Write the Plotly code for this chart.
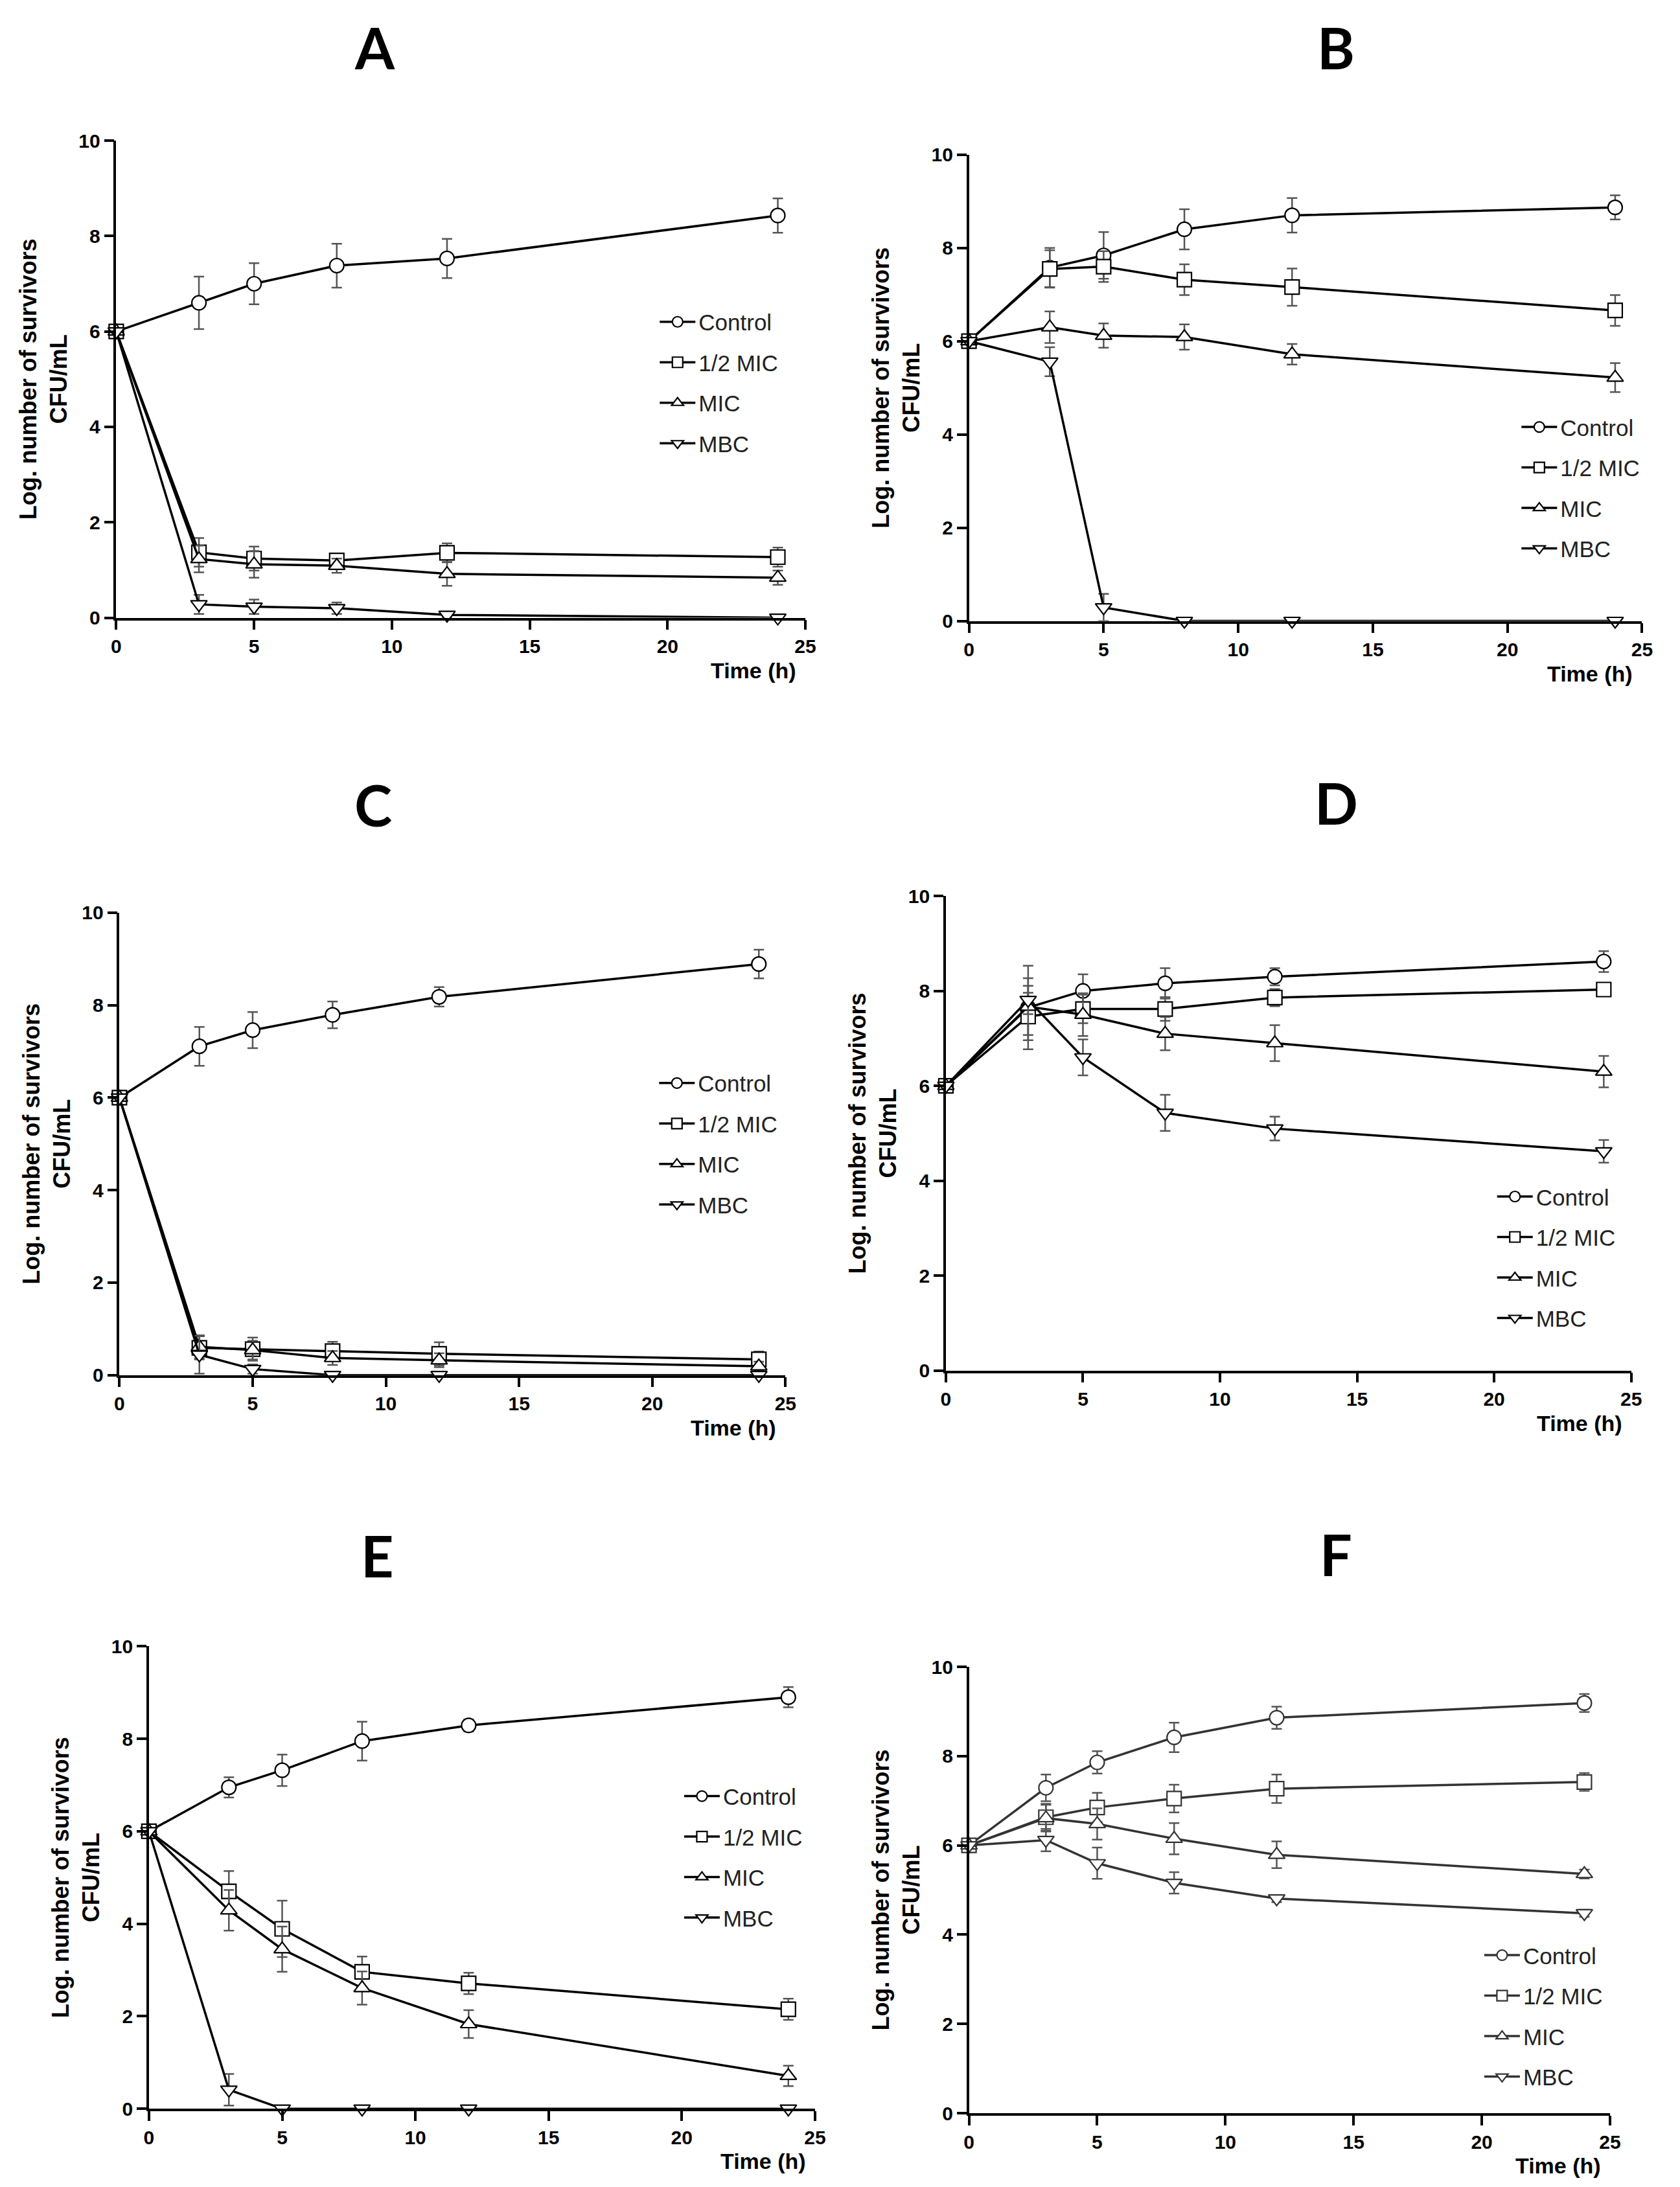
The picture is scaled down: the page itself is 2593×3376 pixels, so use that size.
import plotly.graph_objects as go

# sampling times (h)
time_h = [0, 3, 5, 8, 12, 24]
series_names = ["Control", "1/2 MIC", "MIC", "MBC"]
panel_letters = ["A", "B", "C", "D", "E", "F"]

# panel A
A_control = [6, 6.6, 7.0, 7.38, 7.53, 8.43]
A_control_err = [0, 0.55, 0.43, 0.46, 0.41, 0.36]
A_half = [6, 1.37, 1.24, 1.2, 1.36, 1.27]
A_half_err = [0, 0.3, 0.25, 0.15, 0.2, 0.2]
A_mic = [6, 1.23, 1.12, 1.09, 0.92, 0.84]
A_mic_err = [0, 0.28, 0.28, 0.15, 0.25, 0.15]
A_mbc = [6, 0.28, 0.23, 0.2, 0.06, 0.0]
A_mbc_err = [0, 0.2, 0.15, 0.12, 0.05, 0]

# panel B
B_control = [6, 7.58, 7.84, 8.4, 8.7, 8.87]
B_control_err = [0, 0.42, 0.5, 0.43, 0.37, 0.26]
B_half = [6, 7.55, 7.6, 7.32, 7.16, 6.66]
B_half_err = [0, 0.4, 0.33, 0.33, 0.4, 0.33]
B_mic = [6, 6.3, 6.12, 6.09, 5.72, 5.22]
B_mic_err = [0, 0.34, 0.26, 0.27, 0.22, 0.31]
B_mbc = [6, 5.56, 0.29, 0, 0, 0]
B_mbc_err = [0, 0.31, 0.29, 0, 0, 0]

# panel C
C_control = [6, 7.11, 7.46, 7.79, 8.18, 8.89]
C_control_err = [0, 0.42, 0.39, 0.29, 0.21, 0.31]
C_half = [6, 0.59, 0.56, 0.52, 0.46, 0.34]
C_half_err = [0, 0.25, 0.25, 0.2, 0.25, 0.17]
C_mic = [6, 0.61, 0.54, 0.37, 0.32, 0.19]
C_mic_err = [0, 0.25, 0.2, 0.15, 0.15, 0.1]
C_mbc = [6, 0.44, 0.13, 0, 0, 0]
C_mbc_err = [0, 0.41, 0.1, 0, 0, 0]

# panel D
D_control = [6, 7.65, 8.0, 8.16, 8.3, 8.62]
D_control_err = [0, 0.88, 0.35, 0.32, 0.18, 0.22]
D_half = [6, 7.46, 7.62, 7.62, 7.86, 8.03]
D_half_err = [0, 0.5, 0.3, 0.25, 0.18, 0.1]
D_mic = [6, 7.67, 7.5, 7.1, 6.9, 6.3]
D_mic_err = [0, 0.6, 0.45, 0.35, 0.38, 0.33]
D_mbc = [6, 7.81, 6.6, 5.43, 5.1, 4.62]
D_mbc_err = [0, 0.3, 0.38, 0.38, 0.25, 0.24]

# panel E
E_control = [6, 6.95, 7.32, 7.95, 8.29, 8.9]
E_control_err = [0, 0.22, 0.34, 0.42, 0.13, 0.22]
E_half = [6, 4.7, 3.89, 2.96, 2.71, 2.15]
E_half_err = [0, 0.44, 0.61, 0.33, 0.23, 0.23]
E_mic = [6, 4.29, 3.45, 2.61, 1.83, 0.71]
E_mic_err = [0, 0.44, 0.49, 0.36, 0.3, 0.22]
E_mbc = [6, 0.41, 0, 0, 0, 0]
E_mbc_err = [0, 0.34, 0, 0, 0, 0]

# panel F
F_control = [6, 7.29, 7.86, 8.42, 8.86, 9.19]
F_control_err = [0, 0.3, 0.25, 0.33, 0.25, 0.2]
F_half = [6, 6.63, 6.85, 7.05, 7.27, 7.42]
F_half_err = [0, 0.3, 0.33, 0.31, 0.32, 0.2]
F_mic = [6, 6.61, 6.48, 6.15, 5.79, 5.36]
F_mic_err = [0, 0.3, 0.35, 0.35, 0.3, 0.1]
F_mbc = [6, 6.12, 5.6, 5.16, 4.81, 4.48]
F_mbc_err = [0, 0.25, 0.35, 0.24, 0.08, 0.08]

panels = {
    "A": [(A_control, A_control_err), (A_half, A_half_err), (A_mic, A_mic_err), (A_mbc, A_mbc_err)],
    "B": [(B_control, B_control_err), (B_half, B_half_err), (B_mic, B_mic_err), (B_mbc, B_mbc_err)],
    "C": [(C_control, C_control_err), (C_half, C_half_err), (C_mic, C_mic_err), (C_mbc, C_mbc_err)],
    "D": [(D_control, D_control_err), (D_half, D_half_err), (D_mic, D_mic_err), (D_mbc, D_mbc_err)],
    "E": [(E_control, E_control_err), (E_half, E_half_err), (E_mic, E_mic_err), (E_mbc, E_mbc_err)],
    "F": [(F_control, F_control_err), (F_half, F_half_err), (F_mic, F_mic_err), (F_mbc, F_mbc_err)],
}

W, H = 2593, 3376
symbols = ["circle", "square", "triangle-up", "triangle-down"]

# plot areas in pixels: left, right, top, bottom
boxes = {
    "A": (165, 1239, 194, 938),
    "B": (1494, 2543, 216, 943),
    "C": (170, 1208, 1398, 2119),
    "D": (1458, 2526, 1372, 2112),
    "E": (216, 1254, 2542, 3263),
    "F": (1494, 2493, 2574, 3270),
}
# letter centre
letter_pos = {"A": (568, 48), "B": (2066, 48), "C": (565, 1229),
              "D": (2066, 1226), "E": (572, 2400), "F": (2066, 2398)}
# legend top-left
legend_pos = {"A": (1007, 447), "B": (2350, 611), "C": (1006, 1634),
              "D": (2312, 1811), "E": (1045, 2746), "F": (2292, 2994)}

fig = go.Figure()
annotations = []
layout = {}

for i, letter in enumerate(panel_letters):
    n = i + 1
    xa = "x" if n == 1 else "x%d" % n
    ya = "y" if n == 1 else "y%d" % n
    lg = "legend" if n == 1 else "legend%d" % n
    line_col = "#333333" if letter == "F" else "black"
    for j, (vals, errs) in enumerate(panels[letter]):
        fig.add_trace(go.Scatter(
            x=time_h, y=vals, name=series_names[j],
            mode="lines+markers", xaxis=xa, yaxis=ya,
            legend=lg, legendgroup=letter + str(j),
            line=dict(color=line_col, width=3.5),
            marker=dict(symbol=symbols[j], size=22, color="white",
                        line=dict(color=line_col, width=2.2)),
            error_y=dict(type="data", array=errs, visible=True,
                         color="#555555", thickness=2.5, width=8),
            cliponaxis=False,
        ))

    l, r, t, b = boxes[letter]
    axis_font = dict(family="Liberation Sans", size=30, color="black", weight="bold")
    layout["xaxis" if n == 1 else "xaxis%d" % n] = dict(
        domain=[l / W, r / W], anchor=ya, range=[0, 25], tickvals=[0, 5, 10, 15, 20, 25],
        showline=True, linecolor="black", linewidth=3.5, ticks="outside", ticklen=15,
        tickwidth=3.5, tickcolor="black", showgrid=False, zeroline=False, tickfont=axis_font,
    )
    layout["yaxis" if n == 1 else "yaxis%d" % n] = dict(
        domain=[1 - b / H, 1 - t / H], anchor=xa, range=[0, 10], tickvals=[0, 2, 4, 6, 8, 10],
        showline=True, linecolor="black", linewidth=3.5, ticks="outside", ticklen=15,
        tickwidth=3.5, tickcolor="black", showgrid=False, zeroline=False, tickfont=axis_font,
        title=dict(text="Log. number of survivors<br>CFU/mL", standoff=8,
                   font=dict(family="Liberation Sans", size=36, color="black", weight="bold")),
    )
    lx, ly = legend_pos[letter]
    layout[lg] = dict(x=lx / W, y=1 - ly / H, xanchor="left", yanchor="top",
                      bgcolor="rgba(0,0,0,0)", tracegroupgap=14, itemwidth=55,
                      font=dict(family="Liberation Sans", size=35, color="#222222"))
    cx, cy = letter_pos[letter]
    annotations.append(dict(text=letter, x=cx / W, y=1 - cy / H, xref="paper", yref="paper",
                            showarrow=False, xanchor="center", yanchor="middle",
                            font=dict(family="Lato", size=88, color="black", weight="bold")))
    annotations.append(dict(text="Time (h)", x=1, y=0, xref=xa + " domain", yref=ya + " domain",
                            xanchor="right", yanchor="top", xshift=-12, yshift=-60, showarrow=False,
                            font=dict(family="Liberation Sans", size=34, color="black", weight="bold")))

fig.update_layout(**layout)
fig.update_layout(
    width=W, height=H, margin=dict(l=0, r=0, t=0, b=0),
    plot_bgcolor="white", paper_bgcolor="white",
    annotations=annotations, showlegend=True,
)

fig.write_html("out.html")
